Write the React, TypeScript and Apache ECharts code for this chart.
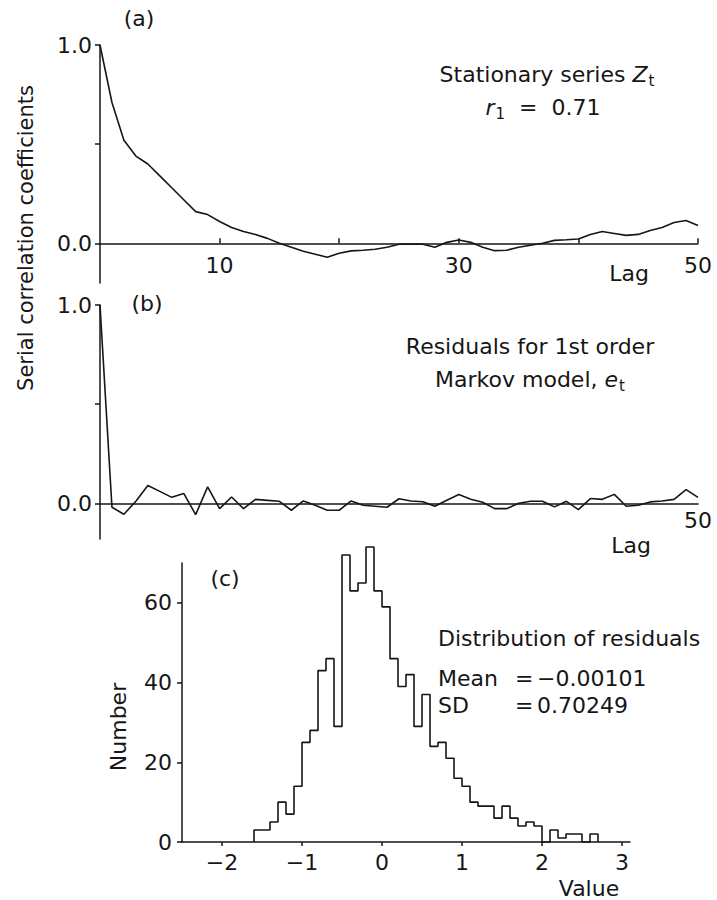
import React, { useEffect, useRef } from "react";
import * as echarts from "echarts";

// ---- Data ----
const LAGS = [
  0, 1, 2, 3, 4, 5, 6, 7, 8, 9, 10, 11, 12, 13, 14, 15, 16, 17, 18, 19, 20, 21, 22, 23, 24, 25,
  26, 27, 28, 29, 30, 31, 32, 33, 34, 35, 36, 37, 38, 39, 40, 41, 42, 43, 44, 45, 46, 47, 48, 49, 50,
];
// (a) autocorrelation of stationary series Z_t
const ACF_Z = [
  1.0, 0.71, 0.52, 0.44, 0.4, 0.34, 0.28, 0.22, 0.16, 0.145, 0.11, 0.08, 0.06, 0.045, 0.025, 0.0,
  -0.02, -0.04, -0.055, -0.07, -0.05, -0.038, -0.035, -0.03, -0.02, -0.005, -0.003, -0.005, -0.02,
  0.005, 0.017, 0.005, -0.02, -0.037, -0.035, -0.02, -0.01, 0.0, 0.015, 0.018, 0.022, 0.045, 0.06,
  0.05, 0.04, 0.045, 0.065, 0.08, 0.105, 0.115, 0.09,
];
// (b) autocorrelation of residuals e_t
const ACF_E = [
  1.0, -0.02, -0.055, 0.01, 0.09, 0.06, 0.03, 0.05, -0.057, 0.083, -0.027, 0.032, -0.027, 0.02,
  0.015, 0.01, -0.035, 0.012, -0.01, -0.035, -0.035, 0.012, -0.01, -0.015, -0.02, 0.023, 0.012,
  0.008, -0.015, 0.015, 0.044, 0.02, 0.005, -0.027, -0.027, 0.0, 0.01, 0.01, -0.018, 0.01, -0.032,
  0.024, 0.02, 0.045, -0.015, -0.01, 0.007, 0.012, 0.02, 0.069, 0.03,
];
// (c) histogram of residuals: bins of width 0.1 starting at -1.6
const HIST_START = -1.6;
const HIST_BIN = 0.1;
const HIST_COUNTS = [
  3, 3, 5, 10, 7, 14, 25, 28, 43, 46, 29, 72, 63, 65, 74, 63, 59, 46, 39, 42, 29, 37, 24, 25, 21,
  16, 14, 10, 9, 9, 6, 9, 6, 4, 5, 4, 0, 3, 1, 2, 2, 0, 2,
];

const LAG_TICKS = [10, 20, 30, 40, 50];
const LAG_LABELS_A = [10, 30, 50];
const LAG_LABELS_B = [50];
const ACF_TICKS = [0, 0.5, 1];
const ACF_LABELS = [0, 1];
const VALUE_TICKS = [-2, -1, 0, 1, 2, 3];
const NUMBER_TICKS = [0, 20, 40, 60];

const FONT = "DejaVu Sans";
const INK = "#161616";

function histPoints(): number[][] {
  const pts: number[][] = [[HIST_START, 0]];
  HIST_COUNTS.forEach((c, i) => {
    const l = HIST_START + i * HIST_BIN;
    const r = HIST_START + (i + 1) * HIST_BIN;
    pts.push([l, c]);
    pts.push([r, c]);
  });
  pts.push([HIST_START + HIST_COUNTS.length * HIST_BIN, 0]);
  return pts;
}

const axisLineStyle = { color: INK, width: 1.5 };
const labelBase = { color: INK, fontFamily: FONT, fontSize: 22 };

function txt(x: number, y: number, text: string, extra: any = {}) {
  return {
    type: "text",
    x,
    y,
    ...(extra.rotation !== undefined ? { rotation: extra.rotation } : {}),
    style: {
      text,
      fill: INK,
      fontFamily: FONT,
      fontSize: extra.fontSize ?? 22,
      textAlign: extra.align ?? "center",
      textVerticalAlign: "middle",
      ...(extra.rich ? { rich: extra.rich } : {}),
    },
  };
}

const subRich = {
  n: { fontSize: 22, fontFamily: FONT, fill: INK, lineHeight: 26 },
  i: { fontSize: 22, fontFamily: FONT, fill: INK, lineHeight: 26, fontStyle: "italic" },
  s: { fontSize: 15, fontFamily: FONT, fill: INK, lineHeight: 26, padding: [14, 0, 0, 1] },
};

export default function App() {
  const ref = useRef<HTMLDivElement>(null);
  useEffect(() => {
    if (!ref.current) return;
    const chart = echarts.init(ref.current, undefined, { renderer: "svg" });
    const lineSeries = (data: number[][], idx: number, clip = true) => ({
      type: "line",
      xAxisIndex: idx,
      yAxisIndex: idx,
      data,
      symbol: "none",
      clip,
      lineStyle: { color: INK, width: 1.6 },
      silent: true,
    });
    const lagX = (idx: number, labels: number[], ticks: boolean, margin: number) => ({
      gridIndex: idx,
      type: "value",
      min: 0,
      max: 50,
      axisLine: { show: true, onZero: true, lineStyle: axisLineStyle },
      axisTick: { show: ticks, inside: true, length: 5, customValues: LAG_TICKS, lineStyle: axisLineStyle },
      axisLabel: { ...labelBase, customValues: labels, margin },
      splitLine: { show: false },
    });
    const acfY = (idx: number, min: number) => ({
      gridIndex: idx,
      type: "value",
      min,
      max: 1,
      axisLine: { show: true, onZero: false, lineStyle: axisLineStyle },
      axisTick: { show: true, length: 5, customValues: ACF_TICKS, lineStyle: axisLineStyle },
      axisLabel: {
        ...labelBase,
        customValues: ACF_LABELS,
        margin: 8,
        formatter: (v: number) => v.toFixed(1),
      },
      splitLine: { show: false },
    });
    chart.setOption({
      animation: false,
      backgroundColor: "#ffffff",
      grid: [
        { left: 100, top: 45, width: 598, height: 238 },
        { left: 100, top: 305, width: 598, height: 234 },
        { left: 182, top: 563, width: 448, height: 279 },
      ],
      xAxis: [
        lagX(0, LAG_LABELS_A, true, -29),
        lagX(1, LAG_LABELS_B, false, -30),
        {
          gridIndex: 2,
          type: "value",
          min: -2.5,
          max: 3.1,
          axisLine: { show: true, onZero: false, lineStyle: axisLineStyle },
          axisTick: { show: true, length: 4, customValues: VALUE_TICKS, lineStyle: axisLineStyle },
          axisLabel: {
            ...labelBase,
            customValues: VALUE_TICKS,
            margin: 9,
            formatter: (v: number) => (v < 0 ? "\u2212" + Math.abs(v) : String(v)),
          },
          splitLine: { show: false },
        },
      ],
      yAxis: [
        acfY(0, -0.2),
        acfY(1, -0.18),
        {
          gridIndex: 2,
          type: "value",
          min: 0,
          max: 70,
          axisLine: { show: true, onZero: false, lineStyle: axisLineStyle },
          axisTick: { show: true, length: 5, customValues: NUMBER_TICKS, lineStyle: axisLineStyle },
          axisLabel: { ...labelBase, customValues: NUMBER_TICKS, margin: 10 },
          splitLine: { show: false },
        },
      ],
      series: [
        lineSeries(LAGS.map((l, i) => [l, ACF_Z[i]]), 0),
        lineSeries(LAGS.map((l, i) => [l, ACF_E[i]]), 1),
        lineSeries(histPoints(), 2, false),
      ],
      graphic: [
        txt(139, 18, "(a)"),
        txt(147, 303, "(b)"),
        txt(225, 578, "(c)"),
        txt(26, 238, "Serial correlation coefficients", { rotation: Math.PI / 2, fontSize: 21 }),
        txt(118, 727, "Number", { rotation: Math.PI / 2 }),
        txt(547, 74, "{n|Stationary series }{i|Z}{s|t}", { rich: subRich }),
        txt(543, 107, "{i|r}{s|1}{n|  =  0.71}", { rich: subRich }),
        txt(530, 346, "Residuals for 1st order"),
        txt(530, 379, "{n|Markov model, }{i|e}{s|t}", { rich: subRich }),
        txt(629, 273, "Lag"),
        txt(631, 545, "Lag"),
        txt(589, 888, "Value"),
        txt(438, 638, "Distribution of residuals", { align: "left" }),
        txt(438, 678, "Mean", { align: "left" }),
        txt(515, 678, "=", { align: "left" }),
        txt(537, 678, "\u22120.00101", { align: "left" }),
        txt(438, 705, "SD", { align: "left" }),
        txt(515, 705, "=", { align: "left" }),
        txt(537, 705, "0.70249", { align: "left" }),
      ],
    });
    return () => chart.dispose();
  }, []);
  return (
    <div
      ref={ref}
      style={{ position: "fixed", left: 0, top: 0, width: 717, height: 900, background: "#fff" }}
    />
  );
}
